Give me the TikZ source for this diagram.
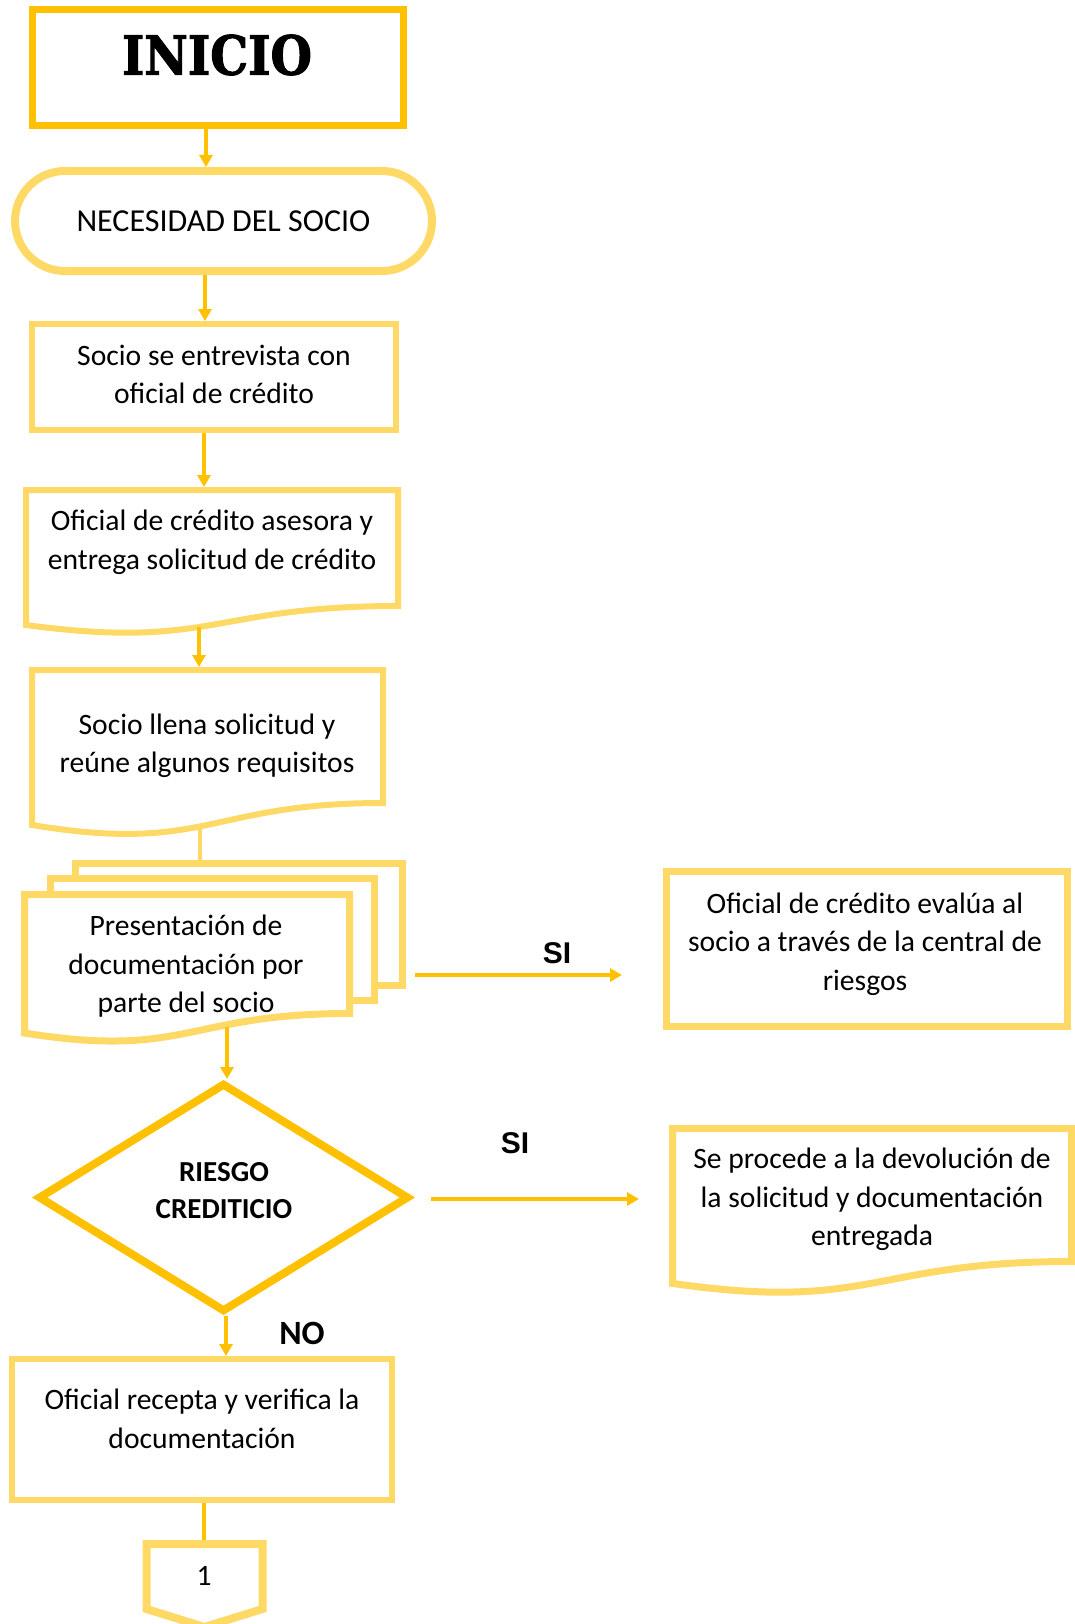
\documentclass[tikz,border=0pt]{standalone}
\usepackage{fontspec}
\setmainfont{Carlito}
\newfontfamily\arialf{Liberation Sans}
\newfontfamily\inif{DejaVu Serif}[BoldFeatures={FakeBold=2}]
\usetikzlibrary{arrows.meta,shapes.misc,shapes.geometric}
\definecolor{gdark}{HTML}{FFC000}
\definecolor{glight}{HTML}{FFD966}
\begin{document}
\begin{tikzpicture}[x=1pt,y=-1pt,
  txt/.style={font=\fontsize{29.6}{38.5}\selectfont, align=center, inner sep=0pt},
  boxL/.style={draw=glight, fill=white, inner sep=0pt, line width=#1},
  arr/.style={draw=gdark, line width=4pt, -{Triangle[width=13pt,length=12pt]}},
  plainln/.style={line width=4pt},
  lbl/.style={font=\arialf\bfseries\fontsize{30}{36}\selectfont, inner sep=0pt},
]
\useasboundingbox (0,0) rectangle (1075,1624);

% INICIO
\node[draw=gdark, line width=7pt, minimum width=371pt, minimum height=116pt, inner sep=0pt] (inicio) at (217.5,68) {};
\node[inner sep=0pt, font=\inif\bfseries] (iniciot) at (217,55) {\resizebox{190pt}{40pt}{INICIO}};

% NECESIDAD
\node[rounded rectangle, boxL=8pt, minimum width=417pt, minimum height=100pt, font=\fontsize{32}{38}\selectfont] (nec) at (223.5,221) {NECESIDAD DEL SOCIO};

% box 1
\node[rectangle, boxL=6pt, minimum width=364pt, minimum height=106pt] (b1) at (214,377) {};
\node[txt] (b1t) at (214,374.5) {Socio se entrevista con\\oficial de crédito};

% document 1
\draw[boxL=6pt] (26,490) -- (398,490) -- (398,606) .. controls (212,606) and (212,650) .. (26,625) -- cycle;
\coordinate (d1top) at (204,487);
\coordinate (d1bot) at (199,627);
\node[txt] (d1t) at (212,542.5) {Oficial de crédito asesora y\\entrega solicitud de crédito};

% document 2
\draw[boxL=6pt] (32,670) -- (383,670) -- (383,803) .. controls (207.5,803) and (207.5,854) .. (32,825) -- cycle;
\coordinate (d2top) at (199,667);
\coordinate (d2bot) at (200,826);
\node[txt] (d2t) at (207,746) {Socio llena solicitud y\\reúne algunos requisitos};

% multi document
\node[boxL=7pt, minimum width=327pt, minimum height=122pt] (back) at (239,924.5) {};
\node[boxL=7pt, minimum width=324pt, minimum height=122pt] (midd) at (212.5,939.5) {};
\draw[boxL=7pt] (24.5,894.5) -- (349.5,894.5) -- (349.5,1013.5) .. controls (187,1013.5) and (187,1059) .. (24.5,1033) -- cycle;
\coordinate (fbot) at (227,1027);
\node[txt] (ft) at (186,966.5) {Presentación de\\documentación por\\parte del socio};

% evalua
\node[boxL=7pt, minimum width=401pt, minimum height=155pt] (eval) at (866.5,948.5) {};
\node[txt] (evalt) at (865,944) {Oficial de crédito evalúa al\\socio a través de la central de\\riesgos};

% diamond
\node[diamond, draw=gdark, fill=white, line width=8pt, minimum width=371pt, minimum height=229pt, inner sep=0pt] (dia) at (223.5,1197.5) {};
\node[txt, font=\fontsize{29}{37}\selectfont\bfseries] (diat) at (224,1190.5) {RIESGO\\CREDITICIO};

% devolucion document
\draw[boxL=7pt] (672.5,1128.5) -- (1071.5,1128.5) -- (1071.5,1261.5) .. controls (872,1261.5) and (872,1312) .. (672.5,1283.4) -- cycle;
\coordinate (devw) at (669,1199);
\node[txt] (devt) at (872,1199.5) {Se procede a la devolución de\\la solicitud y documentación\\entregada};

% box 2
\node[boxL=6pt, minimum width=380pt, minimum height=141pt] (b2) at (202,1429.5) {};
\node[txt] (b2t) at (202,1419) {Oficial recepta y verifica la\\documentación};

% off-page connector
\draw[boxL=8pt] (146.5,1544) -- (262.5,1544) -- (262.5,1609) -- (204.5,1627) -- (146.5,1609) -- cycle;
\coordinate (contop) at (204,1540);
\node[txt] (cont) at (204,1576) {1};

% labels
\node[lbl] (si1l) at (557,953) {SI};
\node[lbl] (si2l) at (515,1143) {SI};
\node[font=\bfseries\fontsize{34}{40}\selectfont, inner sep=0pt] (nol) at (302,1333) {NO};

% connectors
\coordinate (si1) at (0,975);
\coordinate (si2) at (0,1199);
\draw[arr] ([xshift=-11.5pt]inicio.south) -- ([xshift=-11.5pt]inicio.south |- nec.north);
\draw[arr] ([xshift=-18.5pt]nec.south) -- ([xshift=-18.5pt]nec.south |- b1.north);
\draw[arr] ([xshift=-10pt]b1.south) -- (d1top);
\draw[arr] (d1bot) -- (d2top);
\draw[plainln, glight] (d2bot) -- (d2bot |- back.north);
\draw[arr] (fbot) -- (fbot |- dia.north);
\draw[arr, shorten <=9pt, shorten >=40.5pt] (back.east |- si1) -- (eval.west |- si1);
\draw[arr, shorten <=18pt, shorten >=30pt] (dia.east |- si2) -- (devw);
\draw[arr] ([xshift=2.5pt]dia.south) -- ([xshift=2.5pt]dia.south |- b2.north);
\draw[plainln, gdark] ([xshift=2pt]b2.south) -- (contop);
\end{tikzpicture}
\end{document}
